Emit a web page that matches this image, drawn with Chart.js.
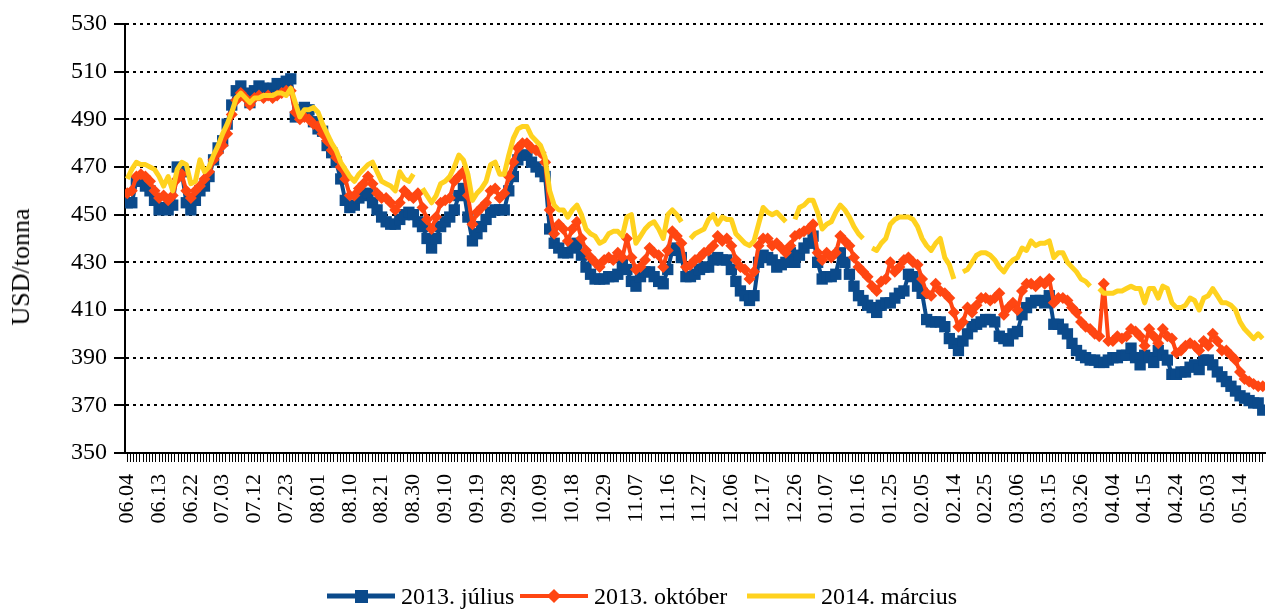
<!DOCTYPE html>
<html>
<head>
<meta charset="utf-8">
<script src="https://cdn.jsdelivr.net/npm/chart.js@4.4.1/dist/chart.umd.min.js"></script>
<style>
  body { margin: 0; background: #fff; }
  #wrap { position: relative; width: 1273px; height: 611px; font-family: 'Liberation Serif', 'Times New Roman', serif; color: #000; }
  #chart { display: block; }
  #ytitle { position: absolute; left: 21px; top: 267px; transform: translate(-50%, -50%) rotate(-90deg); font-size: 26px; white-space: nowrap; }
  .leg { position: absolute; top: 582px; height: 28px; display: flex; align-items: center; font-size: 24px; white-space: nowrap; }
  .sample { position: relative; width: 68px; height: 28px; margin-right: 6px; }
  .sample .ln { position: absolute; left: 0; right: 0; top: 50%; transform: translateY(-50%); }
  .sample .mk { position: absolute; left: 50%; top: 50%; }
</style>
</head>
<body>
<div id="wrap">
  <canvas id="chart" width="1273" height="611"></canvas>
  <div id="ytitle">USD/tonna</div>
  <div class="leg" style="left:327px">
    <div class="sample"><div class="ln" style="height:5px;background:#0b4a8b"></div><div class="mk" style="width:13px;height:13px;margin:-6.5px 0 0 -6.5px;background:#0b4a8b"></div></div>
    <span>2013. július</span>
  </div>
  <div class="leg" style="left:520px">
    <div class="sample"><div class="ln" style="height:4px;background:#ff4612"></div><div class="mk" style="width:10px;height:10px;margin:-5px 0 0 -5px;background:#ff4612;transform:rotate(45deg)"></div></div>
    <span>2013. október</span>
  </div>
  <div class="leg" style="left:747px">
    <div class="sample"><div class="ln" style="height:5px;background:#ffd21f"></div></div>
    <span>2014. március</span>
  </div>
</div>
<script>
// dátum-feliratok (minden 7. kereskedési nap)
const tickLabels = ['06.04', '06.13', '06.22', '07.03', '07.12', '07.23', '08.01', '08.10', '08.21', '08.30',
    '09.10', '09.19', '09.28', '10.09', '10.18', '10.29', '11.07', '11.16', '11.27', '12.06',
    '12.17', '12.26', '01.07', '01.16', '01.25', '02.05', '02.14', '02.25', '03.06', '03.15',
    '03.26', '04.04', '04.15', '04.24', '05.03', '05.14'];

// 2013. július (USD/tonna)
const julius = [
    455, 455, 464, 464, 462, 460, 456, 452, 453, 452,
    454, 470, 468, 455, 452, 456, 460, 462, 466, 473,
    478, 481, 488, 496, 502, 504, 501, 497, 502, 504,
    503, 503, 503, 505, 504, 506, 507, 491, 494, 495,
    494, 489, 486, 485, 479, 476, 472, 465, 456, 453,
    454, 457, 458, 459, 455, 452, 449, 447, 446, 446,
    448, 450, 451, 450, 447, 445, 440, 436, 440, 445,
    447, 449, 452, 458, 461, 449, 439, 442, 445, 448,
    451, 452, 452, 452, 460, 466, 473, 475, 475, 472,
    470, 468, 466, 444, 438, 436, 434, 434, 436, 438,
    433, 428, 425, 423, 423, 423, 424, 424, 425, 429,
    427, 422, 420, 424, 426, 426, 424, 422, 421, 427,
    435, 436, 432, 424, 424, 425, 427, 428, 428, 431,
    432, 431, 431, 427, 422, 418, 416, 414, 416, 430,
    433, 432, 431, 428, 429, 430, 434, 430, 433, 436,
    438, 441, 430, 423, 424, 424, 425, 434, 430, 425,
    420, 416, 414, 412, 411, 409, 412, 413, 413, 415,
    417, 418, 425, 424, 420, 417, 406, 405, 405, 405,
    403, 398, 396, 393, 397, 400, 403, 404, 405, 406,
    406, 405, 399, 398, 397, 400, 401, 408, 411, 413,
    414, 414, 413, 416, 404, 404, 402, 400, 396, 393,
    391, 390, 389, 389, 388, 388, 389, 390, 390, 391,
    391, 394, 390, 387, 391, 390, 388, 393, 391, 389,
    383, 383, 384, 384, 386, 387, 385, 389, 389, 387,
    384, 382, 380, 378, 376, 374, 373, 372, 371, 371,
    368
];

// 2013. október
const oktober = [
    459, 460, 466, 467, 466, 464, 460, 457, 458, 456,
    458, 465, 467, 460, 457, 460, 462, 465, 468, 473,
    476, 479, 484, 492, 498, 501, 499, 496, 499, 500,
    499, 500, 499, 500, 501, 502, 502, 493, 490, 491,
    490, 488, 487, 484, 481, 477, 474, 470, 465, 458,
    458, 461, 463, 466, 463, 459, 457, 457, 455, 452,
    455, 460, 458, 457, 459, 453, 448, 444, 449, 455,
    456, 457, 464, 466, 468, 458, 446, 451, 453, 455,
    460, 461, 457, 459, 466, 472, 478, 480, 480, 478,
    477, 476, 472, 452, 442, 446, 444, 439, 444, 447,
    440, 435, 432, 430, 428, 431, 432, 431, 434, 432,
    440, 432, 427, 428, 431, 436, 434, 433, 428, 435,
    443, 441, 438, 428, 429, 431, 432, 434, 435, 437,
    441, 439, 440, 437, 431, 428, 427, 423, 426, 437,
    440, 440, 437, 438, 436, 434, 437, 441, 442, 443,
    444, 446, 434, 431, 434, 432, 434, 441, 439, 437,
    432, 428, 426, 424, 420, 418, 422, 423, 430, 426,
    428, 431, 432, 430, 429, 423, 417, 416, 421, 418,
    417, 415, 409, 403, 405, 411, 409, 412, 415, 415,
    414, 415, 417, 408, 411, 413, 410, 418, 421, 421,
    420, 422, 421, 423, 413, 415, 415, 414, 411, 409,
    405, 403, 402, 400, 399, 421, 397, 397, 399, 398,
    399, 402, 401, 399, 395, 402, 399, 396, 402, 399,
    398, 392, 393, 395, 396, 395, 393, 397, 395, 400,
    397, 393, 393, 391, 389, 384, 381, 380, 379, 378,
    378
];

// 2014. március (null = hiányzó adat)
const marcius = [
    465, 469, 472, 471, 471, 470, 469, 466, 462, 466,
    460, 469, 472, 471, 463, 464, 473, 468, 470, 475,
    479, 484, 488, 493, 499, 501, 499, 497, 499, 499,
    500, 500, 500, 501, 501, 500, 503, 497, 491, 494,
    494, 495, 493, 488, 484, 480, 477, 472, 469, 466,
    464, 467, 469, 471, 472, 468, 464, 463, 462, 460,
    468, 465, 464, 467, null, 461, 458, 455, 458, 463,
    464, 466, 470, 475, 473, 467, 456, 459, 461, 464,
    471, 472, 467, 467, 475, 482, 486, 487, 487, 483,
    481, 479, 474, 460, 454, 452, 452, 449, 452, 454,
    450, 444, 442, 441, 438, 439, 442, 443, 443, 441,
    449, 450, 438, 441, 444, 446, 447, 444, 440, 450,
    452, 450, 447, null, 440, 442, 443, 444, 448, 450,
    446, 449, 448, 448, 442, 440, 438, 437, 439, 446,
    453, 451, 450, 451, 449, 447, null, 448, 453, 454,
    456, 456, 451, 444, 446, 447, 451, 454, 452, 449,
    445, 442, 440, null, 436, 435, 438, 440, 446, 448,
    449, 449, 449, 448, 445, 440, 437, 435, 438, 440,
    432, 429, 423, null, 426, 427, 430, 433, 434, 434,
    433, 431, 428, 426, 429, 431, 432, 436, 435, 439,
    437, 438, 438, 439, 432, 434, 434, 430, 428, 426,
    423, 422, 420, null, 419, 417, 417, 417, 418, 418,
    419, 420, 419, 419, 413, 419, 419, 415, 420, 419,
    413, 411, 411, 412, 415, 414, 410, 415, 416, 419,
    416, 413, 413, 412, 410, 405, 402, 400, 398, 400,
    398
];

const toPoints = arr => arr.map((v, i) => ({ x: i, y: v }));

const ctx = document.getElementById('chart');
new Chart(ctx, {
    type: 'line',
    data: {
        datasets: [
            {
                label: '2013. július',
                data: toPoints(julius),
                borderColor: '#0b4a8b',
                backgroundColor: '#0b4a8b',
                borderWidth: 4,
                borderJoinStyle: 'round',
                pointStyle: 'rect',
                pointRadius: 8,
                pointBorderWidth: 0,
                tension: 0,
                order: 3
            },
            {
                label: '2013. október',
                data: toPoints(oktober),
                borderColor: '#ff4612',
                backgroundColor: '#ff4612',
                borderWidth: 4,
                borderJoinStyle: 'round',
                pointStyle: 'rectRot',
                pointRadius: 6,
                pointBorderWidth: 0,
                tension: 0,
                order: 2
            },
            {
                label: '2014. március',
                data: toPoints(marcius),
                borderColor: '#ffd21f',
                backgroundColor: '#ffd21f',
                borderWidth: 5,
                borderJoinStyle: 'round',
                pointRadius: 0,
                tension: 0,
                order: 1
            }
        ]
    },
    options: {
        responsive: false,
        animation: false,
        layout: { padding: { top: 24, left: 0, right: 0, bottom: 0 } },
        plugins: {
            legend: { display: false },
            tooltip: { enabled: false }
        },
        scales: {
            x: {
                type: 'linear',
                min: -0.5,
                max: julius.length - 0.5,
                afterFit: function(scale) {
                    scale.height = 158;
                    scale.paddingLeft = 0;
                    scale.paddingRight = 0;
                },
                grid: {
                    drawOnChartArea: false,
                    tickLength: 9,
                    tickWidth: 1,
                    tickColor: '#000'
                },
                border: { color: '#000', width: 2 },
                ticks: {
                    stepSize: 0.7,
                    includeBounds: false,
                    autoSkip: false,
                    minRotation: 90,
                    maxRotation: 90,
                    padding: 12,
                    color: '#000',
                    font: { family: 'Liberation Serif', size: 22 },
                    callback: function(value) {
                        const k = Math.round(value / 7);
                        if (Math.abs(value - k * 7) < 0.01 && k >= 0 && k < tickLabels.length) {
                            return tickLabels[k];
                        }
                        return '';
                    }
                }
            },
            y: {
                min: 350,
                max: 530,
                afterFit: function(scale) {
                    scale.width = 125;
                },
                grid: {
                    color: '#000',
                    lineWidth: 2,
                    tickLength: 11,
                    tickWidth: 2,
                    tickColor: '#000'
                },
                border: { color: '#000', width: 2, dash: [3, 4] },
                ticks: {
                    stepSize: 20,
                    padding: 7,
                    color: '#000',
                    font: { family: 'Liberation Serif', size: 24 }
                }
            }
        }
    }
});
</script>
</body>
</html>
